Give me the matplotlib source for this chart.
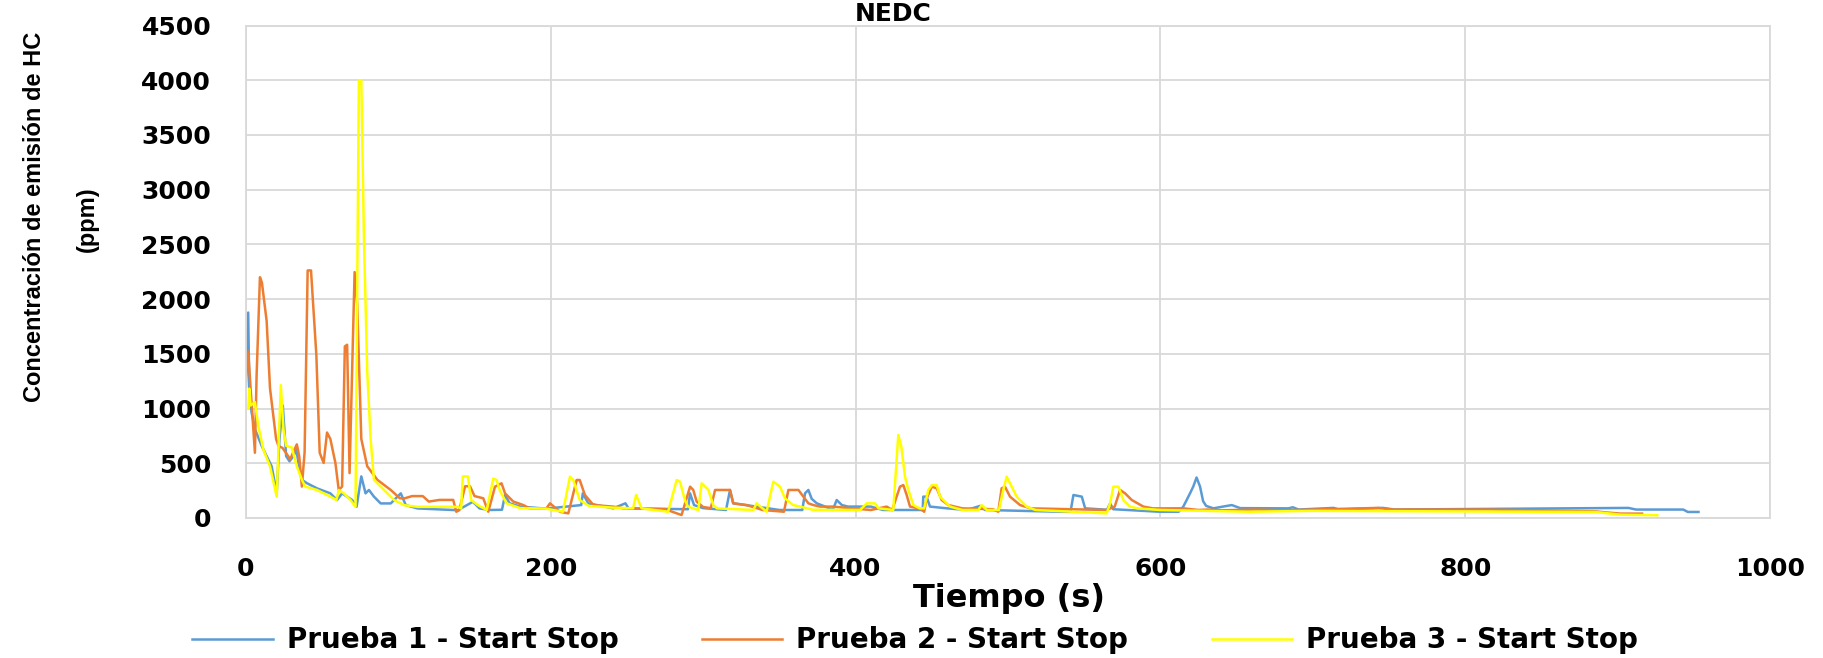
import matplotlib
matplotlib.use("Agg")
import matplotlib.pyplot as plt

# Prueba 1 - Start Stop (azul)
t1 = [0, 1.5, 2.2, 3.7, 5.9, 10.3, 14.7, 16.9, 20.2, 22, 24.2, 26.4, 28.6, 31.2, 33, 34.5,
      36.7, 40, 46.6, 55.4, 59.8, 63.1, 69.7, 72.6, 75.7, 78.5, 80.7, 84, 88.4, 95, 101.6,
      104.9, 112.6, 139, 148.9, 153.3, 160, 168, 170, 173, 180, 197, 220, 221, 224.6, 241,
      249, 251, 290, 291.4, 294, 300, 315, 317.6, 319.7, 335, 350, 365, 366.8, 369, 371.2,
      374.5, 380, 385, 387.6, 391, 395, 410, 418, 444, 444.4, 446.6, 448.8, 460, 473, 481.6,
      485, 534, 541, 542.9, 548.4, 550.6, 565, 567, 569, 599, 612, 615, 619.4, 621.5, 623.7,
      626, 628, 630, 634.8, 641, 646.8, 652.3, 684, 686.8, 690.6, 713.7, 717, 746, 753.5,
      907, 912, 943, 946, 953]
v1 = [1200, 1877, 1185, 966, 812, 660, 534, 472, 225, 722, 1028, 565, 518, 565, 627, 503,
      349, 318, 271, 225, 164, 225, 164, 102, 380, 225, 256, 195, 133, 133, 225,
      117, 87, 71, 148, 87, 73, 75, 210, 134, 104, 85, 118, 225, 134, 88,
      134, 88, 80, 225, 118, 90, 73, 256, 134, 104, 73, 73, 225, 256, 175,
      134, 104, 73, 164, 118, 104, 104, 73, 73, 195, 195, 104, 88, 73, 110,
      73, 57, 57, 210, 195, 88, 75, 134, 80, 57, 57, 104, 225, 286, 370,
      286, 153, 110, 88, 104, 118, 90, 88, 98, 77, 92, 77, 92, 77,
      92, 77, 77, 55, 55]

# Prueba 2 - Start Stop (naranja)
t2 = [0, 1.5, 3, 5.9, 7, 9.2, 10.5, 13.6, 15.8, 19.8, 21.3, 24, 27, 29, 31, 33.4, 35, 36.7,
      38.5, 40.5, 42.7, 46.2, 48.4, 51, 53.2, 55.4, 58.7, 60.9, 63.1, 64.9, 66.4, 68, 71.3,
      73, 75.7, 79.6, 86.2, 95, 101, 104, 109, 116, 120, 127, 136, 138, 140, 143.8, 147,
      150, 155.7, 159, 163.4, 167.7, 170, 175.4, 182, 186, 197, 199.5, 206, 211.5, 217,
      219, 222.4, 228, 241, 247.6, 275, 285.8, 291.4, 293.5, 295.7, 300, 305, 307.8, 317.6,
      319.7, 328.5, 339, 353, 355.9, 362.5, 365.7, 369, 372.3, 376.7, 385, 400, 410, 420.4,
      424, 429.1, 431.3, 433.5, 435.7, 442, 445, 446.6, 450, 453.2, 456.5, 460.9, 470, 490,
      493.6, 495.8, 498, 501.3, 507.9, 515, 564.7, 570, 573.5, 576.8, 581.2, 588.8, 595,
      615, 625, 631, 640, 663, 680, 743, 752, 814, 885, 893, 902, 916]
v2 = [1300, 1521, 1200, 596, 1300, 2200, 2150, 1799, 1185, 722, 660, 640, 580, 536, 600, 673, 560, 287,
      600, 2262, 2262, 1491, 596, 503, 781, 722, 503, 256, 287, 1568, 1583, 410, 2247,
      1954, 722, 472, 349, 256, 180, 179, 200, 200, 150, 165, 165, 57, 71, 290, 290,
      200, 180, 57, 286, 317, 225, 150, 118, 88, 85, 134, 57, 42, 347,
      347, 210, 118, 104, 88, 80, 27, 286, 256, 150, 100, 90, 256, 256,
      134, 118, 73, 57, 256, 256, 195, 134, 118, 104, 104, 85, 73, 104,
      73, 286, 301, 210, 104, 88, 57, 179, 286, 271, 164, 118, 88, 80,
      57, 271, 286, 195, 118, 88, 73, 104, 256, 225, 164, 104, 88,
      88, 73, 77, 70, 77, 70, 92, 77, 77, 61, 50, 40, 40]

# Prueba 3 - Start Stop (amarillo)
t3 = [0, 1.5, 2.2, 3.1, 5.9, 8.1, 11.4, 15.8, 20.2, 22.9, 24.6, 26.4, 30.1, 33.4, 36.7, 38.9,
      46.6, 55.4, 59.4, 60.9, 64.2, 68.6, 71.9, 74.1, 75.7, 77.4, 79.6, 81.8, 84, 90.6, 97.2,
      103.8, 112.6, 139, 141.2, 142.3, 145.6, 147.8, 152.2, 158, 162.3, 164.5, 166.6, 171, 180,
      197, 208, 212.6, 214.8, 219, 225, 240, 254, 256, 259.6, 277, 282.6, 284.8, 288, 290,
      296.8, 299, 303.4, 306.6, 309, 333, 335, 341.6, 346, 350.4, 353.7, 359, 363.5, 372,
      403, 407.3, 412.7, 415, 424.7, 428, 430, 432.4, 434.6, 437.9, 442, 445, 447.7, 450,
      453.2, 455.4, 462, 470, 480.5, 482.7, 486, 494, 496.9, 499.1, 501.3, 505.7, 512.2, 518,
      564.7, 567, 569.1, 572.4, 575.7, 580, 585, 600, 658, 700, 885, 902, 926]
v3 = [1000, 997, 1182, 1028, 1059, 843, 627, 472, 195, 1213, 812, 660, 644, 472, 349, 287,
      256, 195, 164, 256, 225, 164, 102, 4000, 4000, 2571, 1336, 722, 349, 256, 164,
      117, 102, 102, 87, 380, 380, 164, 117, 73, 360, 347, 250, 134, 90,
      85, 57, 378, 347, 164, 110, 95, 88, 210, 88, 57, 347, 332, 164, 104,
      73, 317, 256, 118, 88, 73, 134, 57, 332, 286, 179, 118, 104, 75,
      73, 134, 134, 88, 73, 758, 651, 378, 256, 118, 88, 88, 256, 301,
      301, 195, 104, 73, 73, 118, 73, 73, 256, 378, 317, 195, 104, 73,
      42, 134, 286, 286, 164, 104, 88, 73, 57, 65, 55, 30, 25]

labels = ["Prueba 1 - Start Stop", "Prueba 2 - Start Stop", "Prueba 3 - Start Stop"]
colores = ["#5B9BD5", "#ED7D31", "#FFFF00"]
x_ticks = [0, 200, 400, 600, 800, 1000]
y_ticks = [0, 500, 1000, 1500, 2000, 2500, 3000, 3500, 4000, 4500]

fig = plt.figure(figsize=(18.23, 6.58), dpi=100)
ax = fig.add_axes([0.1349, 0.2128, 0.971 - 0.1349, 0.9612 - 0.2128])

for t, v, lab, c in zip([t1, t2, t3], [v1, v2, v3], labels, colores):
    ax.plot(t, v, color=c, lw=1.8, label=lab)

ax.set_xlim(0, 1000)
ax.set_ylim(0, 4500)
ax.set_xticks(x_ticks)
ax.set_yticks(y_ticks)
ax.grid(True, color="#D9D9D9", lw=1.3)
ax.set_axisbelow(True)
for s in ax.spines.values():
    s.set_color("#D9D9D9")
    s.set_linewidth(1.3)
ax.tick_params(length=0)
ax.tick_params(axis="x", pad=28, labelsize=18)
ax.tick_params(axis="y", pad=25, labelsize=18)
for lbl in ax.get_xticklabels() + ax.get_yticklabels():
    lbl.set_fontweight("bold")

# titulo: en la imagen original queda pegado al borde superior
fig.text(0.49, 1 - 21 / 658, "NEDC", ha="center", va="baseline", fontsize=18, fontweight="bold")
# etiqueta del eje y en dos lineas
fig.text(0.019, 0.670, "Concentración de emisión de HC", rotation=90, ha="center", va="center",
         fontsize=17, fontweight="bold", family=["Liberation Sans", "DejaVu Sans"])
fig.text(0.048, 0.667, "(ppm)", rotation=90, ha="center", va="center",
         fontsize=17, fontweight="bold", family=["Liberation Sans", "DejaVu Sans"])
fig.text(0.5535, 0.0897, "Tiempo (s)", ha="center", va="center", fontsize=23, fontweight="bold")

fig.legend(loc="center", bbox_to_anchor=(0.502, 0.027), ncol=3, frameon=False,
           prop={"weight": "bold", "size": 20}, handlelength=2.9, handletextpad=0.5,
           columnspacing=3.0)

fig.savefig("out.png", dpi=100)
